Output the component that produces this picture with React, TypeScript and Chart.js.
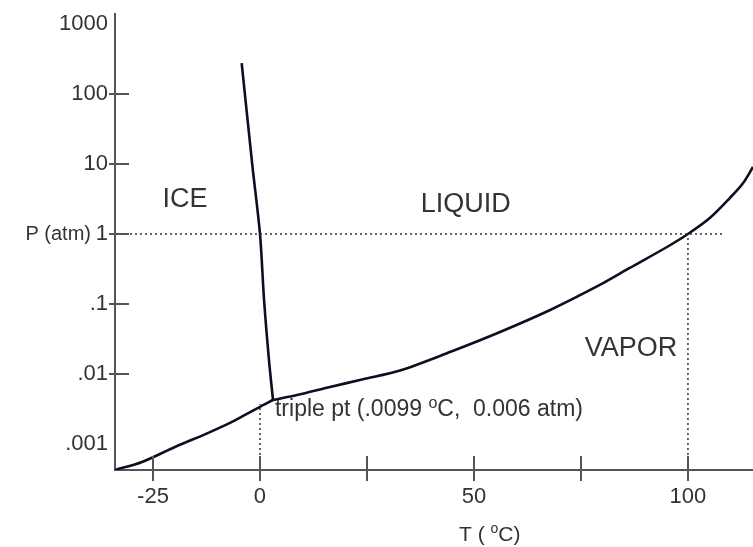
import React, { useEffect, useRef } from "react";
import { Chart, registerables } from "chart.js";

Chart.register(...registerables);

// ---- data ----
// Solid/liquid (melting) boundary
const meltingT = [-4.28, -1.8, 0, 0.95, 2.1, 3.04];
const meltingP = [277, 9.7, 1, 0.114, 0.0158, 0.00425];
// Solid/vapor (sublimation) boundary
const sublimationT = [-33.88, -27.57, -19.86, -11.68, -7.01, -3.5, 0, 3.04];
const sublimationP = [0.000425, 0.000553, 0.000906, 0.00148, 0.002, 0.0026, 0.0034, 0.00425];
// Liquid/vapor (vaporization) boundary
const vaporizationT = [3.04, 8.64, 16.36, 24.07, 32.7, 44.4, 56.1, 67.8, 79.4, 86.4, 95.1, 100, 105.1, 109.8, 112.9, 115.2];
const vaporizationP = [0.00425, 0.00501, 0.00652, 0.0084, 0.0112, 0.0206, 0.0398, 0.082, 0.187, 0.327, 0.652, 1, 1.69, 3.27, 5.35, 9.06];

// Reference (dotted) lines
const oneAtmLineT = [-33.88, 108.6];
const oneAtmLineP = [1, 1];
const zeroCLineT = [0, 0];
const zeroCLineP = [0.000425, 0.0037];
const boilLineT = [100, 100];
const boilLineP = [0.000425, 1];

// Axes
const xMin = -33.88;
const xMax = 115.2;
const yMin = 0.000425;
const yMax = 1390;
const xTickValues = [-25, 0, 25, 50, 75, 100];
const xLabelValues = [-25, 0, 50, 100];
const xLabels = ["-25", "0", "50", "100"];
const yTickValues = [100, 10, 1, 0.1, 0.01];
const yLabelValues = [1000, 100, 10, 1, 0.1, 0.01, 0.001];
const yLabels = ["1000", "100", "10", "1", ".1", ".01", ".001"];

// Region labels (anchored in data space: T, P)
const regionNames = ["ICE", "LIQUID", "VAPOR"];
const regionT = [-17.5, 48.1, 86.7];
const regionP = [3.06, 2.6, 0.0228];

const FONT = '"Liberation Sans", Arial, sans-serif';
const TEXT = "#333333";
const AXIS = "#555555";
const CURVE = "#0e0e22";
const DOT = "#333333";

const toXY = (ts: number[], ps: number[]) => ts.map((t, i) => ({ x: t, y: ps[i] }));

type Part = { text: string; sup?: boolean };

function drawRich(ctx: CanvasRenderingContext2D, parts: Part[], x: number, y: number, size: number, align: "left" | "center") {
  const supSize = Math.round(size * 0.68);
  let total = 0;
  const widths = parts.map((p) => {
    ctx.font = `${p.sup ? supSize : size}px ${FONT}`;
    const w = ctx.measureText(p.text).width;
    total += w;
    return w;
  });
  let cx = align === "center" ? x - total / 2 : x;
  ctx.textAlign = "left";
  ctx.textBaseline = "middle";
  parts.forEach((p, i) => {
    ctx.font = `${p.sup ? supSize : size}px ${FONT}`;
    ctx.fillText(p.text, cx, p.sup ? y - size * 0.28 : y);
    cx += widths[i];
  });
}

const overlayPlugin = {
  id: "phaseOverlay",
  afterDraw(chart: any) {
    const ctx: CanvasRenderingContext2D = chart.ctx;
    const xs = chart.scales.x;
    const ys = chart.scales.y;
    const axisX = chart.chartArea.left;
    const axisY = chart.chartArea.bottom;
    ctx.save();

    // tick marks crossing the axes
    ctx.strokeStyle = AXIS;
    ctx.lineWidth = 2;
    yTickValues.forEach((v) => {
      const py = Math.round(ys.getPixelForValue(v));
      ctx.beginPath();
      ctx.moveTo(axisX - 6, py);
      ctx.lineTo(axisX + 14, py);
      ctx.stroke();
    });
    xTickValues.forEach((v) => {
      const px = Math.round(xs.getPixelForValue(v));
      ctx.beginPath();
      ctx.moveTo(px, axisY - 14);
      ctx.lineTo(px, axisY + 11);
      ctx.stroke();
    });

    // tick labels
    ctx.fillStyle = TEXT;
    ctx.font = `22px ${FONT}`;
    ctx.textAlign = "right";
    ctx.textBaseline = "middle";
    yLabelValues.forEach((v, i) => {
      ctx.fillText(yLabels[i], axisX - 7, ys.getPixelForValue(v));
    });
    ctx.font = `20px ${FONT}`;
    ctx.fillText("P (atm)", axisX - 24, ys.getPixelForValue(1));

    ctx.font = `22px ${FONT}`;
    ctx.textAlign = "center";
    ctx.textBaseline = "top";
    xLabelValues.forEach((v, i) => {
      ctx.fillText(xLabels[i], xs.getPixelForValue(v), axisY + 16);
    });

    // axis title
    drawRich(ctx, [{ text: "T ( " }, { text: "o", sup: true }, { text: "C)" }], xs.getPixelForValue(53.7), axisY + 65, 21, "center");

    // region labels
    ctx.font = `27px ${FONT}`;
    ctx.textAlign = "center";
    ctx.textBaseline = "middle";
    regionNames.forEach((name, i) => {
      ctx.fillText(name, xs.getPixelForValue(regionT[i]), ys.getPixelForValue(regionP[i]));
    });

    // triple point annotation
    drawRich(
      ctx,
      [{ text: "triple pt (.0099 " }, { text: "o", sup: true }, { text: "C,  0.006 atm)" }],
      xs.getPixelForValue(3.5),
      ys.getPixelForValue(0.00306),
      23,
      "left"
    );

    ctx.restore();
  },
};

export default function App() {
  const ref = useRef<HTMLCanvasElement>(null);

  useEffect(() => {
    if (!ref.current) return;
    const curve = (label: string, ts: number[], ps: number[]) => ({
      label,
      data: toXY(ts, ps),
      borderColor: CURVE,
      borderWidth: 2.6,
      pointRadius: 0,
      tension: 0.3,
      fill: false,
    });
    const dotted = (label: string, ts: number[], ps: number[]) => ({
      label,
      data: toXY(ts, ps),
      borderColor: DOT,
      borderWidth: 1.5,
      borderDash: [2, 3],
      pointRadius: 0,
      tension: 0,
      fill: false,
    });

    const chart = new Chart(ref.current, {
      type: "line",
      data: {
        datasets: [
          dotted("1 atm", oneAtmLineT, oneAtmLineP),
          dotted("0 °C", zeroCLineT, zeroCLineP),
          dotted("100 °C", boilLineT, boilLineP),
          curve("melting", meltingT, meltingP),
          curve("sublimation", sublimationT, sublimationP),
          curve("vaporization", vaporizationT, vaporizationP),
        ] as any,
      },
      options: {
        animation: false,
        responsive: false,
        maintainAspectRatio: false,
        layout: { padding: { top: 14, left: 0, right: 0, bottom: 0 } },
        plugins: { legend: { display: false }, tooltip: { enabled: false } },
        scales: {
          x: {
            type: "linear",
            min: xMin,
            max: xMax,
            bounds: "data",
            grid: { display: false },
            border: { display: true, color: AXIS, width: 2 },
            ticks: { display: false },
            afterFit: (s: any) => {
              s.height = 77;
            },
          },
          y: {
            type: "logarithmic",
            position: "left",
            min: yMin,
            max: yMax,
            bounds: "data",
            grid: { display: false },
            border: { display: true, color: AXIS, width: 2 },
            ticks: { display: false },
            afterFit: (s: any) => {
              s.width = 115;
            },
          },
        },
      } as any,
      plugins: [overlayPlugin],
    });
    return () => chart.destroy();
  }, []);

  return (
    <div style={{ position: "fixed", left: 0, top: 0, width: 753, height: 547, background: "#ffffff" }}>
      <canvas ref={ref} width={753} height={547} style={{ display: "block", width: 753, height: 547 }} />
    </div>
  );
}
